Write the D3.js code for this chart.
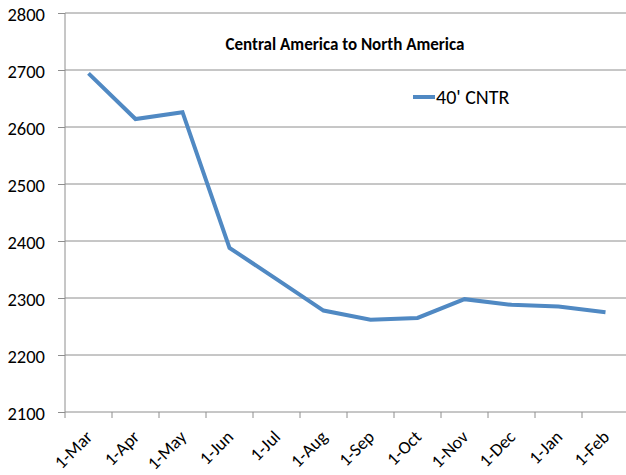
<!DOCTYPE html>
<html>
<head>
<meta charset="utf-8">
<script src="https://cdnjs.cloudflare.com/ajax/libs/d3/7.8.5/d3.min.js"></script>
<style>
  body { margin: 0; background: #fff; }
  text { font-family: Carlito, "Open Sans", "Liberation Sans", sans-serif; fill: #000; }
</style>
</head>
<body>
<div id="chart"></div>
<script>
"use strict";

const months = ["1-Mar", "1-Apr", "1-May", "1-Jun", "1-Jul", "1-Aug",
  "1-Sep", "1-Oct", "1-Nov", "1-Dec", "1-Jan", "1-Feb"];
const cntr40 = [2694, 2614, 2626, 2388, 2333, 2278, 2262, 2265, 2298, 2288, 2285, 2275];
const yTicks = [2100, 2200, 2300, 2400, 2500, 2600, 2700, 2800];
const seriesName = "40' CNTR";
const chartTitle = "Central America to North America";

const svgWidth = 626;
const svgHeight = 475;
const plotLeft = 65;
const plotRight = 629;
const plotTop = 13;
const plotBottom = 412;

const svg = d3.select("#chart")
  .append("svg")
  .attr("width", svgWidth)
  .attr("height", svgHeight)
;

const xScale = d3.scaleBand()
  .domain(months)
  .range([plotLeft, plotRight])
;
const yScale = d3.scaleLinear()
  .domain([2100, 2800])
  .range([plotBottom, plotTop])
;

// horizontal gridlines
svg.append("g")
  .selectAll("line")
  .data(yTicks.slice(1))
  .enter()
  .append("line")
  .attr("x1", plotLeft)
  .attr("x2", svgWidth)
  .attr("y1", d => yScale(d))
  .attr("y2", d => yScale(d))
  .attr("stroke", "#8e8e8e")
  .attr("stroke-width", 1)
;

// y axis
const yAxis = d3.axisLeft(yScale)
  .tickValues(yTicks)
  .tickFormat(d3.format("d"))
  .tickSize(7)
  .tickPadding(13);
svg.append("g")
  .attr("transform", `translate(${plotLeft}, 0)`)
  .call(yAxis)
  .call(g => g.selectAll("line, path").attr("stroke", "#8e8e8e"))
  .call(g => g.select(".domain").attr("d", `M0,${plotTop}V${plotBottom}`))
  .call(g => g.selectAll("text").style("font-size", "18.5px").attr("dy", "0.42em"))
;

// x axis with ticks at band boundaries
svg.append("g")
  .attr("transform", `translate(0, ${plotBottom})`)
  .call(g => g.append("line")
    .attr("x1", plotLeft).attr("x2", svgWidth)
    .attr("stroke", "#8e8e8e"))
  .call(g => g.selectAll(".tk")
    .data(months)
    .enter()
    .append("line")
    .attr("class", "tk")
    .attr("x1", d => xScale(d))
    .attr("x2", d => xScale(d))
    .attr("y1", 0)
    .attr("y2", 6)
    .attr("stroke", "#8e8e8e"))
  .call(g => g.selectAll(".lbl")
    .data(months)
    .enter()
    .append("text")
    .attr("class", "lbl")
    .attr("text-anchor", "end")
    .style("font-size", "18px")
    .attr("transform", d => `translate(${xScale(d) + xScale.bandwidth() / 2 + 5}, 26) rotate(-45)`)
    .text(d => d))
;

// series line
const line = d3.line()
  .x((d, i) => xScale(months[i]) + xScale.bandwidth() / 2)
  .y(d => yScale(d))
;
svg.append("path")
  .datum(cntr40)
  .attr("d", line)
  .attr("fill", "none")
  .attr("stroke", "#5089c3")
  .attr("stroke-width", 4)
  .attr("stroke-linejoin", "miter")
;

// title
svg.append("text")
  .attr("x", 345)
  .attr("y", 50)
  .attr("text-anchor", "middle")
  .style("font-size", "17px")
  .style("font-weight", "bold")
  .text(chartTitle)
;

// legend
svg.append("line")
  .attr("x1", 413).attr("x2", 435)
  .attr("y1", 97).attr("y2", 97)
  .attr("stroke", "#5089c3")
  .attr("stroke-width", 4)
;
svg.append("text")
  .attr("x", 436)
  .attr("y", 104)
  .style("font-size", "20px")
  .text(seriesName)
;
</script>
</body>
</html>
